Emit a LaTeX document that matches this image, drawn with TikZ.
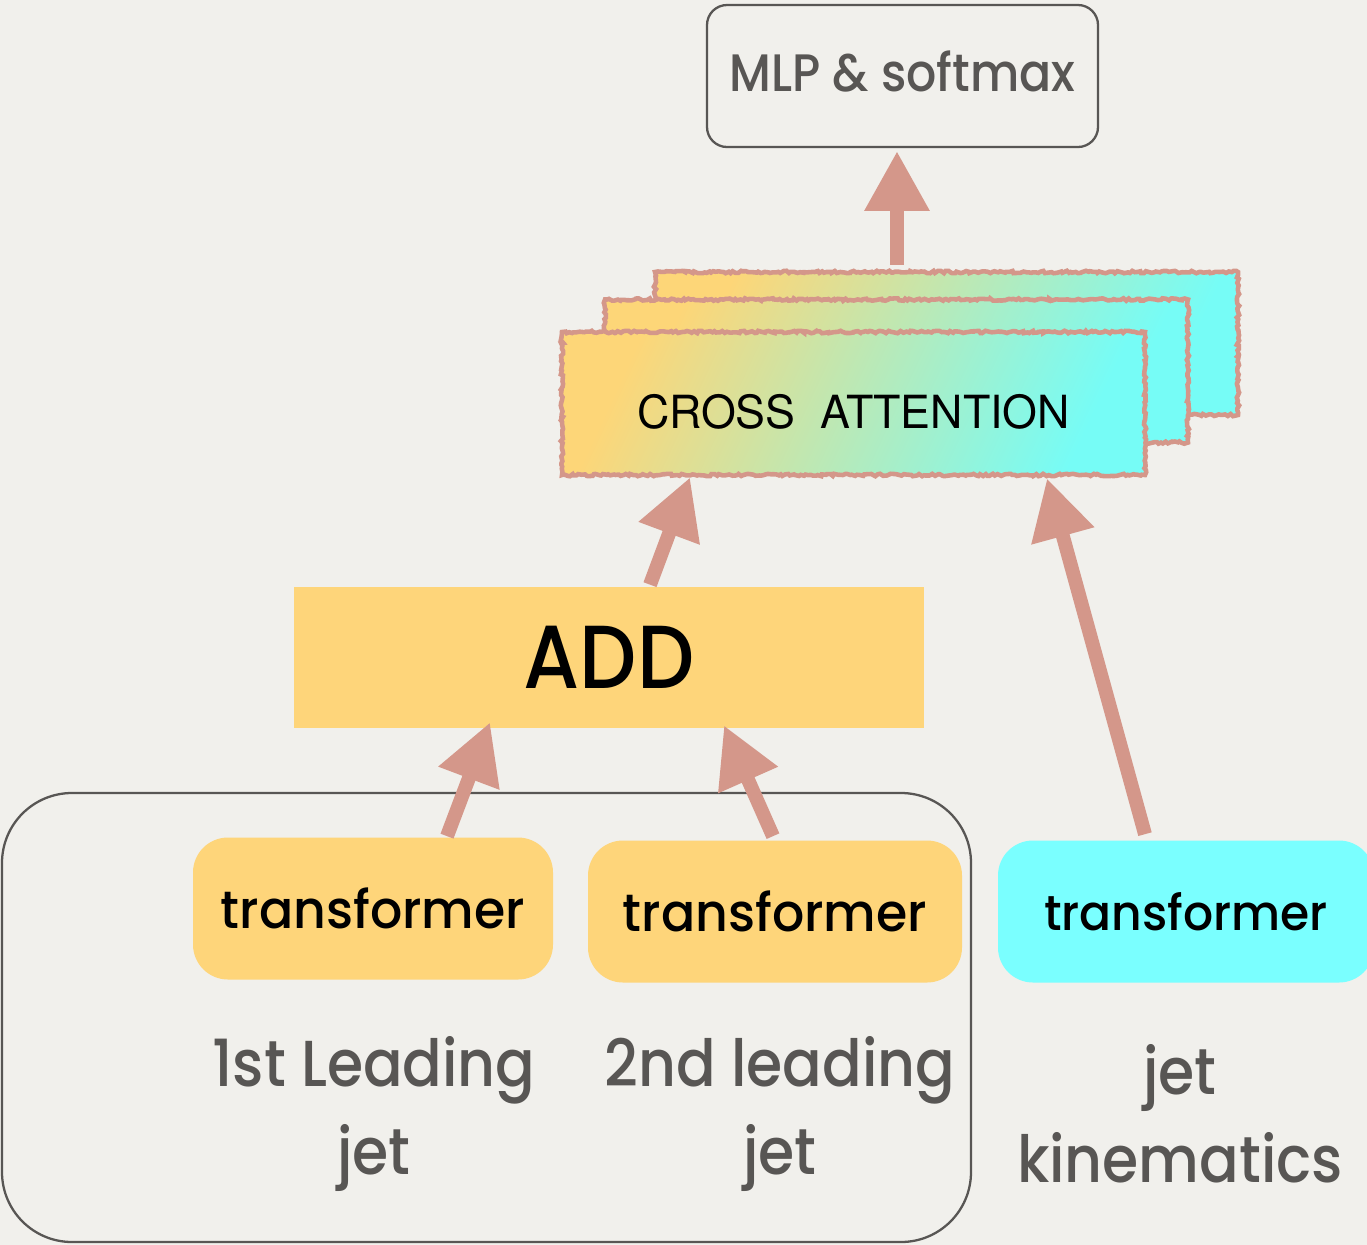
\documentclass[tikz,border=0pt]{standalone}
\usepackage{fontspec}
\setmainfont{Poppins}[UprightFont=* Medium, BoldFont=* SemiBold, FakeStretch=0.9]
\newfontfamily\tffont{Poppins}[UprightFont=* Medium, FakeStretch=0.96]
\newfontfamily\capsfont{TeX Gyre Heros}[FakeStretch=0.98]
\usetikzlibrary{arrows.meta,decorations.pathmorphing,calc}

\definecolor{paper}{RGB}{241,240,236}
\definecolor{ink}{RGB}{88,86,84}
\definecolor{amber}{RGB}{254,213,122}
\definecolor{aqua}{RGB}{122,255,255}
\definecolor{rose}{RGB}{212,151,138}
\definecolor{gradleft}{RGB}{253,214,120}
\definecolor{gradright}{RGB}{118,252,246}

\def\pxu{0.02cm}

\tikzset{
  outlinebox/.style={draw=ink, line width=1.3pt, rounded corners=0.4cm,
    minimum width=391*\pxu, minimum height=142*\pxu},
  attnbox/.style={left color=gradleft, right color=gradright, shading angle=65,
    minimum width=583*\pxu, minimum height=143*\pxu, inner sep=0pt,
    postaction={draw=rose, line width=2.6pt, decorate,
      decoration={random steps, segment length=1.4pt, amplitude=0.7pt}}},
  addbox/.style={fill=amber, minimum width=630*\pxu, minimum height=141*\pxu},
  tfbox/.style={rounded corners=0.7cm, minimum height=142*\pxu, inner sep=0pt,
    font=\tffont\fontsize{30}{36}\selectfont},
  groupbox/.style={draw=ink, line width=1.3pt, rounded corners=1.4cm},
  caption/.style={text=ink, align=center, font=\fontsize{37}{50}\selectfont},
  flow/.style={draw=rose, line width=7.9pt,
    -{Triangle[width=35pt, length=34pt]}},
}

\begin{document}
\begin{tikzpicture}[x=\pxu, y=-\pxu]
  \fill[paper] (0,0) rectangle (1367,1245);
  \useasboundingbox (0,0) rectangle (1367,1245);

  % grouping frame around the two jet transformers
  \draw[groupbox] (2,793) rectangle (971,1242);

  % output head
  \node[outlinebox, text=ink, font=\fontsize{30}{36}\selectfont] (mlp) at (902.5,76)
    {\raisebox{6pt}{MLP \& softmax}};

  % stacked cross-attention heads
  \node[attnbox] (ca3) at (946.5,343.5) {};
  \node[attnbox] (ca2) at (896.5,371) {};
  \node[attnbox] (ca) at (853.5,403.5) {};
  \node[font=\capsfont\fontsize{26}{32}\selectfont, inner sep=0pt] (catext)
    at (853.5,411.5) {CROSS\ \ ATTENTION};

  % sum of the jet embeddings
  \node[addbox, font=\fontsize{51}{56}\selectfont] (add) at (609,657.5) {ADD};

  % encoders
  \node[tfbox, fill=amber, minimum width=360*\pxu] (t1) at (373,908.5) {transformer};
  \node[tfbox, fill=amber, minimum width=374*\pxu] (t2) at (775,911.5) {transformer};
  \node[tfbox, fill=aqua, minimum width=376*\pxu,
        font=\tffont\fontsize{28}{34}\selectfont] (t3) at (1186,911.5) {transformer};

  % inputs
  \node[caption] (in1) at (374,1114) {1st Leading\\jet};
  \node[caption] (in2) at (780,1114) {2nd leading\\jet};
  \node[caption] (in3) at (1180,1114) {jet\\kinematics};

  % connectors
  \draw[flow] ($(ca3.north)+(-49.5,-7)$) -- ($(mlp.south)+(-5.5,3)$);
  \draw[flow] ($(add.north)+(41,-2)$) -- ($(ca.south)+(-163.5,2)$);
  \draw[flow] ($(t1.north)+(74,-1)$) -- ($(add.south)+(-119,-6)$);
  \draw[flow] ($(t2.north)+(-2,-4)$) -- ($(add.south)+(115,-3)$);
  \draw[flow] ($(t3.north)+(-41,-6)$) -- ($(ca.south)+(193.5,3)$);
\end{tikzpicture}
\end{document}
